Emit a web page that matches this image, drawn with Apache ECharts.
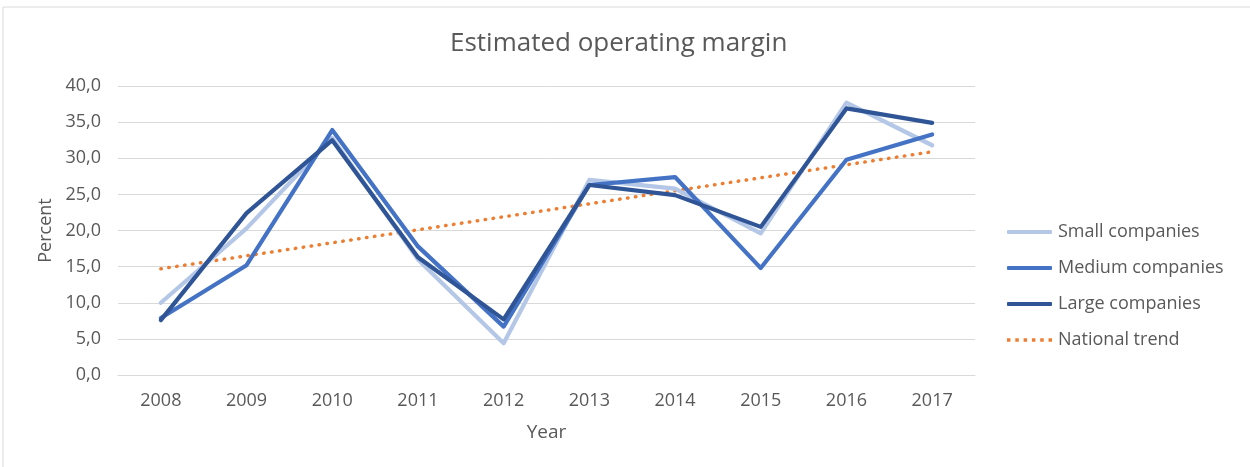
<!DOCTYPE html>
<html>
<head>
<meta charset="utf-8">
<script src="https://cdn.jsdelivr.net/npm/echarts@6/dist/echarts.min.js"></script>
<style>
  html, body { margin: 0; padding: 0; background: #fff; }
  #chart { width: 1250px; height: 467px; }
</style>
</head>
<body>
<div id="chart"></div>
<script>
const years = ['2008', '2009', '2010', '2011', '2012', '2013', '2014', '2015', '2016', '2017'];
const small = [10.0, 20.3, 32.8, 16.0, 4.4, 27.0, 25.8, 19.6, 37.7, 31.8];
const medium = [7.9, 15.2, 33.9, 17.8, 6.7, 26.3, 27.4, 14.8, 29.8, 33.3];
const large = [7.6, 22.4, 32.5, 16.3, 7.7, 26.3, 24.9, 20.5, 36.9, 34.9];
// trend line: only the two end points, joined straight
const trend = [14.7, null, null, null, null, null, null, null, null, 30.9];

const font = '"Open Sans", sans-serif';
const grey = '#595959';

const chart = echarts.init(document.getElementById('chart'));

function lineSeries(name, data, color) {
  return {
    name: name,
    type: 'line',
    data: data,
    symbol: 'none',
    lineStyle: { color: color, width: 4.2, cap: 'round', join: 'round' },
    itemStyle: { color: color }
  };
}

const solidIcon = 'roundRect';
const dotIcon = 'path://M0,0h1v1h-1zM2.4,0h1v1h-1zM4.8,0h1v1h-1zM7.2,0h1v1h-1zM9.6,0h1v1h-1zM12,0h1v1h-1z';

chart.setOption({
  animation: false,
  graphic: [{
    type: 'rect',
    shape: { x: 3, y: 7, width: 1260, height: 480 },
    style: { fill: 'none', stroke: '#d9d9d9', lineWidth: 1 },
    silent: true
  }],
  title: {
    text: 'Estimated operating margin',
    left: 445,
    top: 26,
    textStyle: { fontFamily: font, fontSize: 26, fontWeight: 'normal', color: grey }
  },
  grid: { left: 118, right: 275, top: 86, bottom: 92 },
  legend: {
    orient: 'vertical',
    left: 1002,
    top: 215,
    itemWidth: 45,
    itemHeight: 4,
    itemGap: 12,
    textStyle: { fontFamily: font, fontSize: 18, color: grey, lineHeight: 24, padding: [0, 0, 0, 1] },
    data: [
      { name: 'Small companies', icon: solidIcon },
      { name: 'Medium companies', icon: solidIcon },
      { name: 'Large companies', icon: solidIcon },
      { name: 'National trend', icon: dotIcon }
    ]
  },
  xAxis: {
    type: 'category',
    data: years,
    name: 'Year',
    nameLocation: 'middle',
    nameGap: 48,
    nameTextStyle: { fontFamily: font, fontSize: 19, color: grey },
    axisLine: { lineStyle: { color: '#d9d9d9' } },
    axisTick: { show: false },
    axisLabel: { fontFamily: font, fontSize: 18, color: grey, margin: 17 }
  },
  yAxis: {
    type: 'value',
    min: 0,
    max: 40,
    interval: 5,
    name: 'Percent',
    nameLocation: 'middle',
    nameGap: 61,
    nameTextStyle: { fontFamily: font, fontSize: 18, color: grey },
    axisLine: { show: false },
    axisTick: { show: false },
    splitLine: { lineStyle: { color: '#d9d9d9' } },
    axisLabel: {
      fontFamily: font, fontSize: 18, color: grey, margin: 17,
      formatter: v => v.toFixed(1).replace('.', ',')
    }
  },
  series: [
    lineSeries('Small companies', small, '#b4c7e7'),
    lineSeries('Medium companies', medium, '#4472c4'),
    lineSeries('Large companies', large, '#2f5597'),
    {
      name: 'National trend',
      type: 'line',
      data: trend,
      connectNulls: true,
      symbol: 'none',
      lineStyle: { color: '#ed7d31', width: 3.5, type: [0.5, 7.5], cap: 'round' },
      itemStyle: { color: '#ed7d31' },
      z: 1
    }
  ]
});
</script>
</body>
</html>
